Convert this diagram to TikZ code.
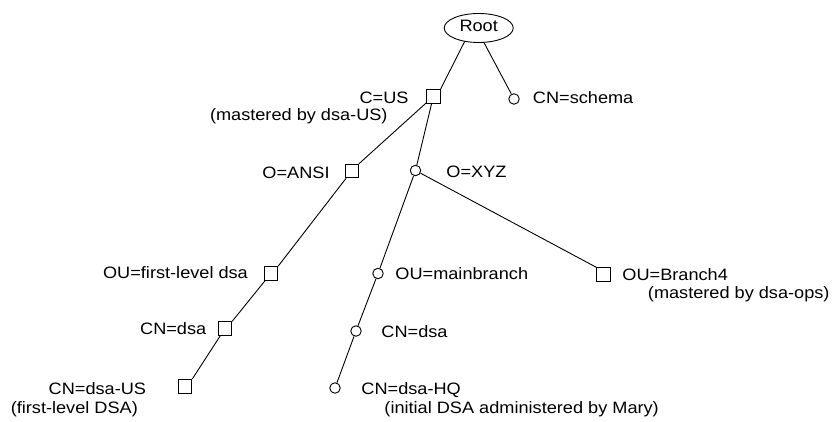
\documentclass[tikz,border=0pt]{standalone}
\usepackage{fontspec}
\setmainfont{Liberation Sans}[FakeStretch=1.1]
\usetikzlibrary{shapes.geometric}
\begin{document}
\begin{tikzpicture}[x=1pt, y=-1pt, line width=0.9pt,
  font=\fontsize{16.5}{18}\selectfont,
  sq/.style={draw, rectangle, minimum size=13.5pt, inner sep=0pt},
  dot/.style={draw, circle, minimum size=10.5pt, inner sep=0pt},
  rootshape/.style={draw, ellipse, minimum width=69pt, minimum height=29pt, inner sep=0pt},
  lw/.style={anchor=base west, inner sep=0pt},
  le/.style={anchor=base east, inner sep=0pt},
  link/.style={draw}]
\useasboundingbox (0,0) rectangle (837,422);

% entries of the directory tree
\node[rootshape] (root) at (478.7,28) {};
\node[anchor=base, inner sep=0pt] (roottxt) at (478.7,31.5) {Root};
\node[sq]  (cus)    at (433.3,96.5) {};
\node[dot] (schema) at (514,99) {};
\node[sq]  (ansi)   at (351.7,171) {};
\node[dot] (xyz)    at (415.5,170.5) {};
\node[sq]  (fl)     at (271,273.3) {};
\node[dot] (mb)     at (378,273.5) {};
\node[sq]  (b4)     at (603.5,274.5) {};
\node[sq]  (dsaL)   at (225,328.5) {};
\node[dot] (dsaR)   at (356,331) {};
\node[sq]  (dsaUS)  at (185,386.3) {};
\node[dot] (hq)     at (335,388) {};

% connectors
\path[link] (root.224) -- (cus.north east);
\path[link] (root.290) -- (schema);
\path[link] (cus) -- (ansi.north east);
\path[link] (cus) -- (xyz);
\path[link] (ansi) -- (fl.north east);
\path[link] (fl) -- (dsaL.north east);
\path[link] (dsaL) -- (dsaUS.north east);
\path[link] (xyz) -- (b4.north west);
\path[link] (xyz) -- (mb);
\path[link] (mb) -- (dsaR);
\path[link] (dsaR) -- (hq);

% labels
\node[le] (tcus)  at (409,103.5) {C=US};
\node[le] (tcus2) at (388,120.5) {(mastered by dsa-US)};
\node[lw] (tschema) at (532.5,104) {CN=schema};
\node[le] (tansi) at (330,178.5) {O=ANSI};
\node[lw] (txyz)  at (446,178) {O=XYZ};
\node[le] (tfl)   at (248.3,278.5) {OU=first-level dsa};
\node[lw] (tmb)   at (395,279) {OU=mainbranch};
\node[lw] (tb4)   at (622,280) {OU=Branch4};
\node[lw] (tb4b)  at (647.5,298.5) {(mastered by dsa-ops)};
\node[le] (tdsaL) at (206.7,334) {CN=dsa};
\node[lw] (tdsaR) at (381,337) {CN=dsa};
\node[le] (tus)   at (146.5,394) {CN=dsa-US};
\node[le] (tus2)  at (138.3,413) {(first-level DSA)};
\node[lw] (thq)   at (361,394.5) {CN=dsa-HQ};
\node[lw] (thq2)  at (384,413.5) {(initial DSA administered by Mary)};
\end{tikzpicture}
\end{document}
